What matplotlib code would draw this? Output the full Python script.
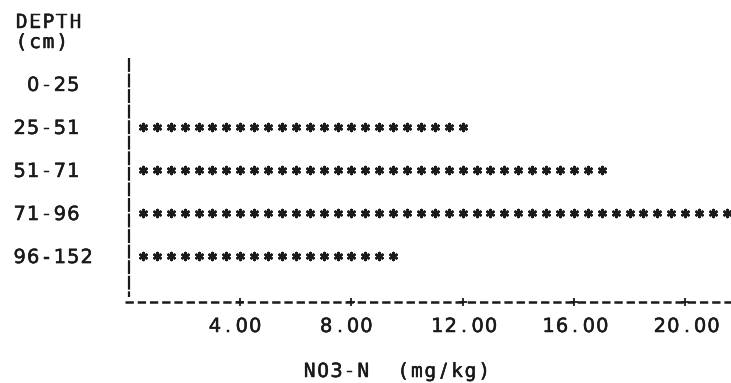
import numpy as np
import matplotlib
matplotlib.use("Agg")
import matplotlib.pyplot as plt
import matplotlib.patheffects as pe

plt.rcParams['lines.scale_dashes'] = False

depths = ["0-25", "25-51", "51-71", "71-96", "96-152"]
no3_n = [0.0, 12.0, 17.0, 21.5, 9.5]   # mg/kg, one asterisk per 0.5
tick_values = [4, 8, 12, 16, 20]
tick_labels = ["4.00", "8.00", "12.00", "16.00", "20.00"]
star_step = 0.5

W, H = 731, 383
INK = '#1a1a1a'
CELL = 13.4   # width of one printer character, px

fig = plt.figure(figsize=(W / 100, H / 100), dpi=100)
ax = fig.add_axes([0, 0, 1, 1])
ax.set_xlim(-4.64, 21.65)
ax.set_ylim(6.95, -1.95)
ax.axis('off')

heavier = [pe.withStroke(linewidth=0.35, foreground=INK)]


def typed(x, y, s, size=14):
    # fixed pitch text like the old line printer; x = left edge, y = baseline (px from top)
    for k, ch in enumerate(s):
        if ch == ' ':
            continue
        # letters from the mono face so wide ones (M, N, O, m) stay inside their cell
        fam = 'DejaVu Sans Mono' if ch.isalpha() else 'DejaVu Sans'
        fig.text((x + CELL * (k + 0.5)) / W, 1 - y / H, ch, ha='center', va='baseline',
                 fontsize=size, color=INK, family=fam, path_effects=heavier)


def row_px(i):
    return H - ax.transData.transform((0, i))[1]


# asterisk bars
for i, v in enumerate(no3_n):
    n = int(round(v / star_step))
    if n == 0:
        continue
    xs = np.arange(1, n + 1) * star_step
    ax.scatter(xs, [i] * n, marker=(6, 2, 0), s=26, linewidths=1.8, color=INK)

# axes made of characters
axis_y = 5.07
ax.plot([0, 0], [-0.6, 4.95], color=INK, lw=1.6, dashes=(10, 1.2))
ax.plot([-0.15, 21.65], [axis_y, axis_y], color=INK, lw=1.8, dashes=(6, 2.8))
ax.scatter(tick_values, [axis_y] * len(tick_values), marker='+', s=40, linewidths=1.3, color=INK)

# labels
typed(15, 28, "DEPTH")
typed(15, 48, "(cm)")
for i, d in enumerate(depths):
    typed(13, row_px(i) + 7, f"{d:>5}")

for t, lab in zip(tick_values, tick_labels):
    xpx = ax.transData.transform((t, axis_y))[0]
    typed(xpx - 32, 332, lab)

typed(303, 377, "NO3-N  (mg/kg)")

fig.savefig("out.png", dpi=100, facecolor='white')
